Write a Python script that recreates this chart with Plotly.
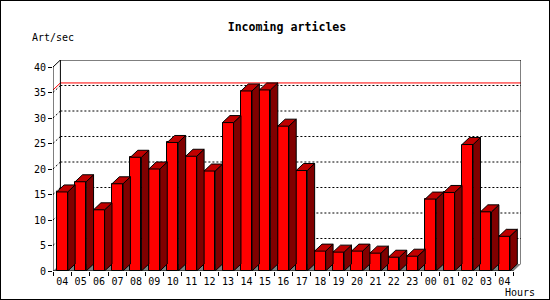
import plotly.graph_objects as go

# ---- data ----
hours = ["04", "05", "06", "07", "08", "09", "10", "11", "12", "13", "14", "15",
         "16", "17", "18", "19", "20", "21", "22", "23", "00", "01", "02", "03", "04"]
rate = [15.5, 17.5, 12.0, 17.1, 22.3, 20.0, 25.2, 22.5, 19.6, 29.1, 35.3, 35.5,
        28.4, 19.7, 3.9, 3.7, 3.9, 3.5, 2.7, 2.9, 14.1, 15.4, 24.8, 11.6, 6.8]
y_ticks = [0, 5, 10, 15, 20, 25, 30, 35, 40]
title_text = "Incoming articles"
y_title = "Art/sec"
x_title = "Hours"

# ---- geometry ----
W, H = 550, 300
ML, MR, MT, MB = 53, 29, 60, 29
n = len(hours)
xs = list(range(n))
DXPX, DYPX = 7.4, 7.0
plot_w = W - ML - MR
plot_h = H - MT - MB
kx = (plot_w - DXPX) / n
dx = DXPX / kx
x0, x1 = -0.5, n - 0.5
xr = x1 + dx
ymax = y_ticks[-1]
ky = (plot_h - DYPX) / ymax
dy = DYPX / ky
yr = ymax + dy
bw = 0.6

FRONT, TOP, SIDE, FLOOR = "#ff0000", "#c00000", "#800000", "#808080"
MONO = "DejaVu Sans Mono"

fig = go.Figure()

# front faces
fig.add_trace(go.Bar(
    x=xs, y=rate, width=bw, marker=dict(color=FRONT, line=dict(color="black", width=1)),
    showlegend=False))

# side and top faces
sx, sy, tx, ty = [], [], [], []
for xi, v in zip(xs, rate):
    r = xi + bw / 2
    l = xi - bw / 2
    sx += [r, r + dx, r + dx, r, r, None]
    sy += [0, dy, v + dy, v, 0, None]
    tx += [l, l + dx, r + dx, r, l, None]
    ty += [v, v + dy, v + dy, v, v, None]
fig.add_trace(go.Scatter(x=sx, y=sy, mode="lines", fill="toself", fillcolor=SIDE,
                         line=dict(color="black", width=1), hoverinfo="skip", showlegend=False))
fig.add_trace(go.Scatter(x=tx, y=ty, mode="lines", fill="toself", fillcolor=TOP,
                         line=dict(color="black", width=1), hoverinfo="skip", showlegend=False))

shapes = []
# floor
shapes.append(dict(type="path", xref="x", yref="y",
                   path=f"M{x0},0 L{x0 + dx},{dy} L{xr},{dy} L{x1},0 Z",
                   fillcolor=FLOOR, line=dict(width=0), layer="below"))

def line(xa, ya, xb, yb, color="black", dash="solid", layer="below", width=1):
    shapes.append(dict(type="line", xref="x", yref="y", x0=xa, y0=ya, x1=xb, y1=yb,
                       line=dict(color=color, width=width, dash=dash), layer=layer))

# gridlines on back wall + left wall diagonals
for v in y_ticks[1:-1]:
    line(x0, v, x0 + dx, v + dy, dash="2px,2px")
    line(x0 + dx, v + dy, xr, v + dy, dash="2px,2px")
# max line
m = max(rate)
line(x0, m, x0 + dx, m + dy, color="red")
line(x0 + dx, m + dy, xr, m + dy, color="red")
# back wall frame
line(x0 + dx, dy, x0 + dx, yr)
line(x0 + dx, yr, xr, yr)
line(xr, dy, xr, yr)
line(x0, ymax, x0 + dx, yr)
# front axes
line(x0, 0, x0, ymax, layer="above")
line(x0, 0, x1, 0, layer="above")

# outer frame (paper coordinates)
px = lambda p: (p - ML) / plot_w
py = lambda p: (H - MB - p) / plot_h
shapes.append(dict(type="rect", xref="paper", yref="paper", x0=px(0), x1=px(W), y0=py(H), y1=py(0),
                   line=dict(color="black", width=2), fillcolor="rgba(0,0,0,0)", layer="above"))

annotations = [
    dict(text=y_title, xref="paper", yref="paper", x=px(30), y=py(37), xanchor="left", yanchor="middle",
         showarrow=False, font=dict(family=MONO, size=10, color="black")),
    dict(text=x_title, xref="paper", yref="paper", x=px(503), y=py(292), xanchor="left", yanchor="middle",
         showarrow=False, font=dict(family=MONO, size=10, color="black")),
]

fig.update_layout(
    width=W, height=H, margin=dict(l=ML, r=MR, t=MT, b=MB, pad=0),
    paper_bgcolor="white", plot_bgcolor="white",
    title=dict(text="<b>" + title_text + "</b>", x=0.5, xref="paper", xanchor="center",
               y=1 - 27 / H, yref="container", yanchor="middle",
               font=dict(family=MONO, size=11.6, color="black")),
    shapes=shapes, annotations=annotations, bargap=0,
    xaxis=dict(range=[x0, xr], tickmode="array", tickvals=xs, ticktext=hours, ticks="",
               showgrid=False, zeroline=False, showline=False, ticklabelstandoff=3,
               tickfont=dict(family=MONO, size=10, color="black"),
               minor=dict(tickmode="linear", tick0=-0.5, dtick=1, ticks="outside", ticklen=4,
                          tickcolor="black", showgrid=False)),
    yaxis=dict(range=[0, yr], tickmode="array", tickvals=y_ticks, ticks="outside", ticklen=4,
               tickcolor="black", showgrid=False, zeroline=False, showline=False,
               tickfont=dict(family=MONO, size=10, color="black")),
    hovermode=False,
)

fig.write_html("out.html")
